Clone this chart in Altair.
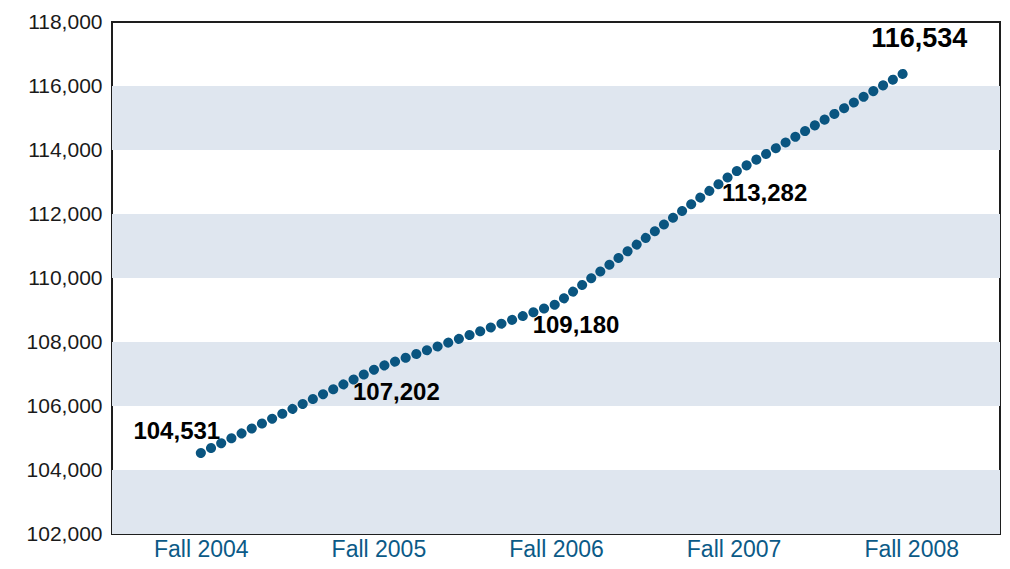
import altair as alt
import pandas as pd

terms = ["Fall 2004", "Fall 2005", "Fall 2006", "Fall 2007", "Fall 2008"]
enrollment = [104531, 107202, 109180, 113282, 116534]
band_start = [102000, 106000, 110000, 114000]
band_end = [104000, 108000, 112000, 116000]

df = pd.DataFrame({"term": terms, "value": enrollment})
df["label"] = df["value"].map(lambda v: f"{v:,}")
bands = pd.DataFrame({"y0": band_start, "y1": band_end})

W, H = 888, 512

xscale = alt.Scale(type="point", domain=terms, padding=0.5)
yscale = alt.Scale(domain=[102000, 118000], nice=False, zero=False)
yaxis = alt.Axis(values=list(range(102000, 118001, 2000)),
                 labelExpr="format(datum.value, ',.0f')",
                 title=None, grid=False, ticks=False, domain=False,
                 labelFontSize=21, labelColor="#1a1a1a", labelPadding=10,
                 labelFont="Liberation Sans")

band_layer = alt.Chart(bands).mark_rect(color="#dfe6ef").encode(
    y=alt.Y("y0:Q", scale=yscale, axis=yaxis),
    y2="y1:Q",
    x=alt.value(0),
    x2=alt.value(W),
)

base = alt.Chart(df).encode(
    x=alt.X("term:N", scale=xscale, sort=terms,
            axis=alt.Axis(title=None, labelAngle=0, ticks=False, domain=False,
                          labelFontSize=23, labelColor="#0b5a87", labelPadding=4,
                          labelFont="Liberation Sans")),
    y=alt.Y("value:Q", scale=yscale, axis=yaxis),
)

line = base.mark_line(color="#0a5580", strokeWidth=10, strokeCap="round",
                      strokeDash=[0.1, 11.2])

offsets = [(-24, -21, 24), (18, 25, 24), (20, 22, 24), (31, 21, 24), (8, -30, 27)]
texts = []
for term, (dx, dy, fs) in zip(terms, offsets):
    texts.append(
        base.transform_filter(alt.datum.term == term).mark_text(
            dx=dx, dy=dy, fontSize=fs, fontWeight="bold", color="#000000",
            font="Liberation Sans", align="center", baseline="middle"
        ).encode(text="label:N")
    )

chart = alt.layer(band_layer, line, *texts).properties(
    width=W, height=H,
    autosize="none",
    padding={"left": 104, "top": 14, "right": 2, "bottom": 27},
).configure_view(stroke="#1e1e1e", strokeWidth=2)

chart.save("out.html", embed_options={"renderer": "svg", "actions": False})
